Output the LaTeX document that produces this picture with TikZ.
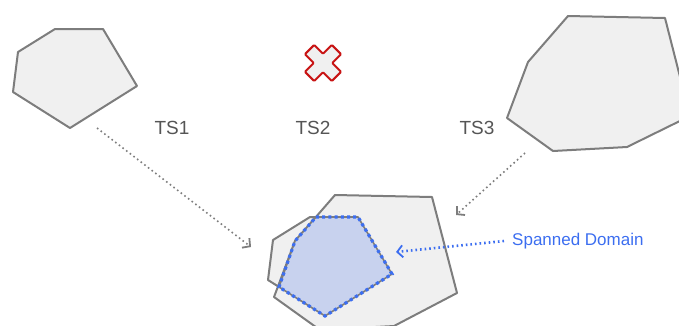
\documentclass[tikz,border=0pt]{standalone}
\usepackage{fontspec}
\setmainfont{Liberation Sans}
\usetikzlibrary{arrows.meta}
\definecolor{polyfill}{RGB}{240,240,240}
\definecolor{polyline}{RGB}{125,125,125}
\definecolor{spanblue}{RGB}{60,110,240}
\definecolor{spanfill}{RGB}{200,210,238}
\definecolor{crossred}{RGB}{200,20,20}
\definecolor{labelgray}{RGB}{85,85,85}
\tikzset{
  poly/.style={draw=polyline, line width=2pt, fill=polyfill, line join=round},
  span/.style={fill=spanfill, draw=polyline, line width=1.6pt, line join=round},
  spandots/.style={draw=spanblue, line width=3.2pt, dash pattern=on 3pt off 3.2pt},
  arrow/.style={-{Straight Barb[length=5.5pt, width=12pt, line width=1.8pt]},
                line width=1.6pt, dash pattern=on 1.6pt off 3pt},
  tslabel/.style={font=\fontsize{19}{21}\selectfont, text=labelgray},
  note/.style={font=\fontsize{17}{19}\selectfont, text=spanblue, inner sep=0pt},
}
\begin{document}
\begin{tikzpicture}[x=1pt, y=-1pt]
\useasboundingbox (0,0) rectangle (679,325);

% --- training sets ---
\draw[poly] (55,29) -- (103,29) -- (137,86) -- (70,128) -- (13,92) -- (18,52) -- cycle;
\draw[poly] (568,16) -- (665,18) -- (690,116) -- (627,147) -- (553,151) -- (507,118)
    -- (528,62) -- cycle;

% failed one
\draw[draw=crossred, line width=2pt, fill=polyfill, rounded corners=1pt,
      shift={(323,63)}, rotate=45]
    (-6.5,-19) -- (6.5,-19) -- (6.5,-6.5) -- (19,-6.5) -- (19,6.5) -- (6.5,6.5)
    -- (6.5,19) -- (-6.5,19) -- (-6.5,6.5) -- (-19,6.5) -- (-19,-6.5) -- (-6.5,-6.5) -- cycle;

\node[tslabel] (ts1) at (172,128) {TS1};
\node[tslabel] (ts2) at (313,128) {TS2};
\node[tslabel] (ts3) at (477,128) {TS3};

% --- spanned domain (overlap of the two) ---
\draw[poly] (310,217) -- (358,217) -- (392,274) -- (325,316) -- (268,280) -- (273,240) -- cycle;
\draw[poly] (335,195) -- (432,197) -- (457,293) -- (394,326) -- (320,330) -- (274,297)
    -- (295,241) -- cycle;
\path[span] (316,217) -- (358,217) -- (392,274) -- (325,316) -- (279,287) -- (295,241) -- cycle;
\path[spandots] (316,217) -- (358,217) -- (392,274) -- (325,316) -- (279,287) -- (295,241) -- cycle;

% --- arrows ---
\coordinate (from1) at (97,128);
\coordinate (to1) at (251,247);
\coordinate (from3) at (525,153);
\coordinate (to3) at (456,215);
\coordinate (dom) at (396,252);

\draw[arrow, polyline] (from1) -- (to1);
\draw[arrow, polyline] (from3) -- (to3);

\node[note, anchor=west] (spanned) at (512,241) {Spanned Domain};
\draw[arrow, spanblue, line width=2.6pt] (spanned.west) ++(-8,0) -- (dom);

\end{tikzpicture}
\end{document}
